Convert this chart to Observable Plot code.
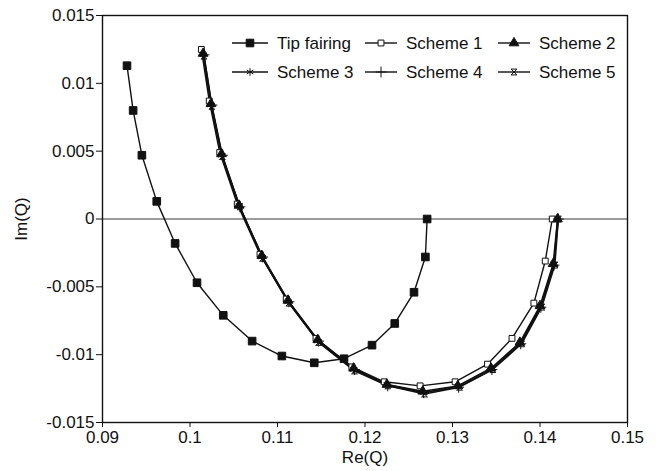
<!DOCTYPE html>
<html><head><meta charset="utf-8">
<script src="https://cdn.jsdelivr.net/npm/d3@7"></script>
<script src="https://cdn.jsdelivr.net/npm/@observablehq/plot@0.6"></script>
<style>body{margin:0;background:#fff}</style>
</head><body><div id="chart"></div>
<script>
const xTicks = [0.09, 0.1, 0.11, 0.12, 0.13, 0.14, 0.15];
const yTicks = [-0.015, -0.01, -0.005, 0, 0.005, 0.01, 0.015];
const seriesNames = ["Tip fairing", "Scheme 1", "Scheme 2", "Scheme 3", "Scheme 4", "Scheme 5"];

const tipRe = [0.0928, 0.0935, 0.0945, 0.0962, 0.0983, 0.1008, 0.1038, 0.1071, 0.1105, 0.1142, 0.1176, 0.1208, 0.1234, 0.1256, 0.1269, 0.1271];
const tipIm = [0.0113, 0.0080, 0.0047, 0.0013, -0.0018, -0.0047, -0.0071, -0.0090, -0.0101, -0.0106, -0.0103, -0.0093, -0.0077, -0.0054, -0.0028, 0.0000];

const s1Re = [0.1013, 0.1022, 0.1034, 0.1054, 0.1080, 0.1110, 0.1144, 0.1185, 0.1222, 0.1263, 0.1303, 0.1340, 0.1368, 0.1393, 0.1406, 0.1414];
const s1Im = [0.0125, 0.0087, 0.0049, 0.0011, -0.0026, -0.0059, -0.0088, -0.0109, -0.0120, -0.0123, -0.0120, -0.0107, -0.0088, -0.0062, -0.0031, 0.0000];

const s2Re = [0.1015, 0.1024, 0.1036, 0.1056, 0.1082, 0.1112, 0.1146, 0.1187, 0.1225, 0.1266, 0.1306, 0.1344, 0.1377, 0.1400, 0.1415, 0.1420];
const s2Im = [0.0122, 0.0085, 0.0048, 0.0010, -0.0027, -0.0060, -0.0089, -0.0110, -0.0122, -0.0127, -0.0123, -0.0110, -0.0091, -0.0064, -0.0033, 0.0000];

const s3Re = [0.1015, 0.1024, 0.1036, 0.1056, 0.1082, 0.1112, 0.1146, 0.1187, 0.1225, 0.1267, 0.1307, 0.1345, 0.1378, 0.1401, 0.1416, 0.1420];
const s3Im = [0.0121, 0.0084, 0.0047, 0.0010, -0.0028, -0.0061, -0.0090, -0.0111, -0.0122, -0.0128, -0.0123, -0.0110, -0.0091, -0.0064, -0.0033, 0.0000];

const s4Re = [0.1016, 0.1025, 0.1037, 0.1057, 0.1083, 0.1113, 0.1147, 0.1188, 0.1226, 0.1267, 0.1307, 0.1345, 0.1378, 0.1401, 0.1416, 0.1421];
const s4Im = [0.0121, 0.0084, 0.0047, 0.0009, -0.0028, -0.0061, -0.0090, -0.0111, -0.0123, -0.0128, -0.0124, -0.0111, -0.0092, -0.0065, -0.0034, 0.0000];

const s5Re = [0.1016, 0.1025, 0.1037, 0.1057, 0.1083, 0.1113, 0.1147, 0.1188, 0.1226, 0.1268, 0.1308, 0.1346, 0.1379, 0.1402, 0.1417, 0.1421];
const s5Im = [0.0120, 0.0083, 0.0046, 0.0009, -0.0029, -0.0062, -0.0091, -0.0112, -0.0123, -0.0129, -0.0124, -0.0111, -0.0092, -0.0065, -0.0034, 0.0000];

const hourglass = {
  draw(ctx, size) {
    const r = Math.sqrt(size) / 2;
    ctx.moveTo(-r, -r); ctx.lineTo(r, -r); ctx.lineTo(-r, r); ctx.lineTo(r, r); ctx.closePath();
  }
};

const styles = [
  {name: seriesNames[0], re: tipRe, im: tipIm, symbol: d3.symbolSquare, r: 4.3, fill: "#111", stroke: "#111"},
  {name: seriesNames[1], re: s1Re, im: s1Im, symbol: d3.symbolSquare, r: 3.3, fill: "white", stroke: "#111"},
  {name: seriesNames[2], re: s2Re, im: s2Im, symbol: d3.symbolTriangle, r: 3.6, fill: "#111", stroke: "#111"},
  {name: seriesNames[3], re: s3Re, im: s3Im, symbol: d3.symbolAsterisk, r: 3.6, fill: "none", stroke: "#111"},
  {name: seriesNames[4], re: s4Re, im: s4Im, symbol: d3.symbolPlus, r: 3.6, fill: "none", stroke: "#111"},
  {name: seriesNames[5], re: s5Re, im: s5Im, symbol: hourglass, r: 3.3, fill: "none", stroke: "#111"}
];

const fmt = d => (Math.abs(d) < 1e-12 ? "0" : String(+d.toFixed(3)));

const marks = [
  Plot.ruleY([0], {stroke: "#222", strokeWidth: 0.9})
];
for (const s of styles) {
  const data = s.re.map((v, i) => ({re: v, im: s.im[i]}));
  marks.push(Plot.line(data, {x: "re", y: "im", stroke: "#111", strokeWidth: 1.4}));
}
for (const s of styles) {
  const data = s.re.map((v, i) => ({re: v, im: s.im[i]}));
  marks.push(Plot.dot(data, {x: "re", y: "im", symbol: () => s.symbol, r: s.r, fill: s.fill, stroke: s.stroke, strokeWidth: 1}));
}
marks.push(Plot.frame({stroke: "#111", strokeWidth: 1.4}));

const chart = Plot.plot({
  width: 656, height: 471,
  marginLeft: 102, marginRight: 29, marginTop: 15, marginBottom: 49,
  style: {fontFamily: "'Liberation Sans', Arial, Helvetica, sans-serif", fontSize: "17px", color: "#111", background: "white"},
  x: {domain: [0.09, 0.15], ticks: xTicks, tickFormat: fmt, tickSize: 5, tickPadding: 3, label: "Re(Q)", labelAnchor: "center", labelArrow: "none", labelOffset: 40},
  y: {domain: [-0.015, 0.015], ticks: yTicks, tickFormat: fmt, tickSize: 6, tickPadding: 2, label: "Im(Q)", labelAnchor: "center", labelArrow: "none", labelOffset: 88},
  symbol: {type: "identity"},
  marks
});
document.getElementById("chart").appendChild(chart);

// legend
const svg = d3.select(chart);
const lg = svg.append("g").attr("font-family", "'Liberation Sans', Arial, sans-serif").attr("font-size", 17).attr("fill", "#111").attr("text-anchor", "start");
const cols = [232, 365, 498];
const rows = [43, 72];
styles.forEach((s, i) => {
  const x0 = cols[i % 3], y0 = rows[Math.floor(i / 3)];
  const w = i % 3 === 0 ? 36 : 32;
  lg.append("line").attr("x1", x0).attr("x2", x0 + w).attr("y1", y0).attr("y2", y0).attr("stroke", "#111").attr("stroke-width", 1.4);
  lg.append("path").attr("transform", `translate(${x0 + w / 2},${y0})`)
    .attr("d", d3.symbol().type(s.symbol).size(Math.PI * s.r * s.r)())
    .attr("fill", s.fill).attr("stroke", s.stroke).attr("stroke-width", 1);
  lg.append("text").attr("x", x0 + w + 9).attr("y", y0).attr("dy", "0.35em").style("text-anchor", "start").text(s.name);
});
</script></body></html>
